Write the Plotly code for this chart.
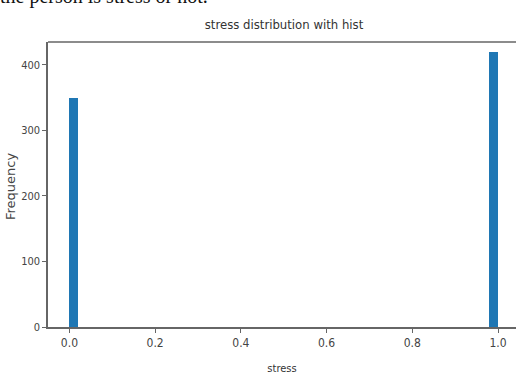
import plotly.graph_objects as go

# Data (histogram of 'stress', 50 bins over [0, 1])
stress_values = [0, 1]
counts = [350, 420]
n_bins = 50
x_ticks = [0.0, 0.2, 0.4, 0.6, 0.8, 1.0]
y_ticks = [0, 100, 200, 300, 400]

bin_width = 1.0 / n_bins
bin_left = [min(v, 1 - bin_width) for v in stress_values]

W, H = 516, 376
ml, mr, mt, mb = 48, 0, 42, 49
plot_w = W - ml - mr
plot_h = H - mt - mb

font_narrow = "DejaVu Sans Condensed, DejaVu Sans, sans-serif"
axis_color = "#666"

fig = go.Figure()
fig.add_trace(go.Bar(
    x=bin_left, y=counts, width=[bin_width] * len(counts), offset=0,
    marker=dict(color="#1f77b4", line=dict(width=0)),
    showlegend=False,
))

fig.update_layout(
    width=W, height=H,
    margin=dict(l=ml, r=mr, t=mt, b=mb, autoexpand=False),
    paper_bgcolor="white", plot_bgcolor="white",
    bargap=0,
    title=dict(text="stress distribution with hist", x=(284) / W, xanchor="center",
               y=1 - 24 / H, yanchor="middle", automargin=False,
               font=dict(family=font_narrow, size=13, color="#333")),
    xaxis=dict(range=[-0.05, 1.042], tickvals=x_ticks, tickformat=".1f",
               automargin=False,
               showgrid=False, zeroline=False, showline=True, linecolor=axis_color,
               linewidth=1.5, mirror=False, ticks="outside", ticklen=4,
               tickcolor=axis_color,
               tickfont=dict(family=font_narrow, size=12, color="#444"),
               title=dict(text="stress", standoff=15,
                          font=dict(family=font_narrow, size=11, color="#333"))),
    yaxis=dict(range=[0, 435], tickvals=y_ticks, showgrid=False, zeroline=False,
               automargin=False,
               showline=True, linecolor=axis_color, linewidth=1.5, mirror=False,
               ticks="outside", ticklen=4, tickcolor=axis_color,
               tickfont=dict(family=font_narrow, size=11, color="#444")),
)

# top frame line (the right spine lies just outside the visible area)
fig.add_shape(type="line", xref="paper", yref="paper", x0=0, x1=1, y0=1, y1=1,
              line=dict(color=axis_color, width=1.5))

# y-axis title placed where the reference shows it
fig.add_annotation(
    text="Frequency", textangle=-90,
    xref="paper", yref="paper",
    x=(10 - ml) / plot_w, y=(H - mb - 187) / plot_h,
    xanchor="center", yanchor="middle", showarrow=False,
    font=dict(family="DejaVu Sans, sans-serif", size=13, color="#444"),
)

# Partially visible document text above the chart
fig.add_annotation(
    text="the person is stress or not.",
    xref="paper", yref="paper",
    x=(-2 - ml) / plot_w, y=1 + (mt - 10) / plot_h,
    xanchor="left", yanchor="bottom", showarrow=False,
    font=dict(family="Liberation Serif, Times New Roman, serif", size=20, color="#111"),
)

fig.write_html(
    "out.html",
    config={"displayModeBar": False},
    post_script="document.documentElement.style.overflow='hidden';"
                "document.body.style.margin='0';document.body.style.padding='0';"
                "document.body.style.overflow='hidden';",
)
